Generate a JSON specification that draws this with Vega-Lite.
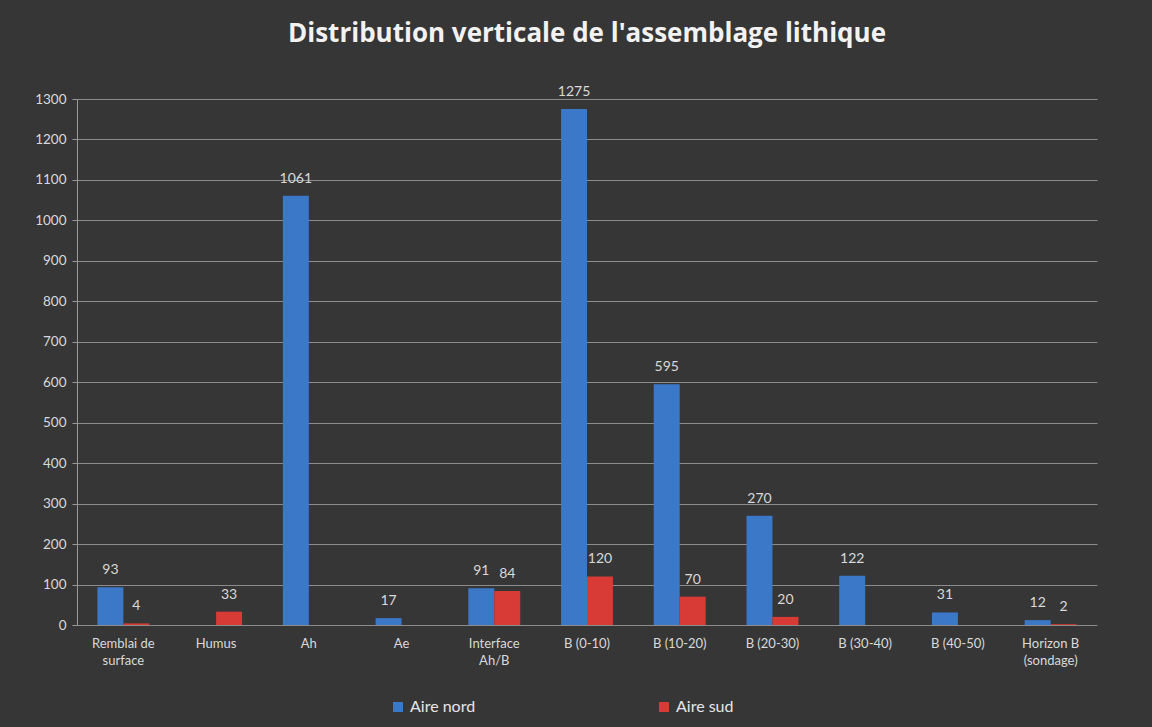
{
  "$schema": "https://vega.github.io/schema/vega-lite/v6.json",
  "width": 1020,
  "height": 526,
  "autosize": {"type": "none"},
  "padding": {"left": 77, "top": 99, "right": 55, "bottom": 102},
  "background": "#363636",
  "title": {
    "text": "Distribution verticale de l'assemblage lithique",
    "font": "Open Sans",
    "fontSize": 26,
    "fontWeight": "bold",
    "color": "#f2f2f2",
    "anchor": "middle",
    "offset": 38
  },
  "data": {
    "values": [
      {"couche": "Remblai de surface", "aire": "Aire nord", "n": 93},
      {"couche": "Remblai de surface", "aire": "Aire sud", "n": 4},
      {"couche": "Humus", "aire": "Aire sud", "n": 33},
      {"couche": "Ah", "aire": "Aire nord", "n": 1061},
      {"couche": "Ae", "aire": "Aire nord", "n": 17},
      {"couche": "Interface Ah/B", "aire": "Aire nord", "n": 91},
      {"couche": "Interface Ah/B", "aire": "Aire sud", "n": 84},
      {"couche": "B (0-10)", "aire": "Aire nord", "n": 1275},
      {"couche": "B (0-10)", "aire": "Aire sud", "n": 120},
      {"couche": "B (10-20)", "aire": "Aire nord", "n": 595},
      {"couche": "B (10-20)", "aire": "Aire sud", "n": 70},
      {"couche": "B (20-30)", "aire": "Aire nord", "n": 270},
      {"couche": "B (20-30)", "aire": "Aire sud", "n": 20},
      {"couche": "B (30-40)", "aire": "Aire nord", "n": 122},
      {"couche": "B (40-50)", "aire": "Aire nord", "n": 31},
      {"couche": "Horizon B (sondage)", "aire": "Aire nord", "n": 12},
      {"couche": "Horizon B (sondage)", "aire": "Aire sud", "n": 2}
    ]
  },
  "encoding": {
    "x": {
      "field": "couche",
      "type": "nominal",
      "sort": ["Remblai de surface", "Humus", "Ah", "Ae", "Interface Ah/B", "B (0-10)", "B (10-20)", "B (20-30)", "B (30-40)", "B (40-50)", "Horizon B (sondage)"],
      "scale": {"paddingInner": 0.44, "paddingOuter": 0.22},
      "axis": {
        "title": null,
        "labelAngle": 0,
        "labelFont": "Lato",
        "labelFontSize": 13,
        "labelColor": "#d9d9d9",
        "labelPadding": 12,
        "labelLineHeight": 17,
        "ticks": false,
        "domain": false,
        "labelExpr": "datum.value == 'Remblai de surface' ? ['Remblai de', 'surface'] : datum.value == 'Interface Ah/B' ? ['Interface', 'Ah/B'] : datum.value == 'Horizon B (sondage)' ? ['Horizon B', '(sondage)'] : datum.label"
      }
    },
    "xOffset": {"field": "aire", "type": "nominal", "sort": ["Aire nord", "Aire sud"], "scale": {"domain": ["Aire nord", "Aire sud"]}},
    "y": {
      "field": "n",
      "type": "quantitative",
      "scale": {"domain": [0, 1300]},
      "axis": {
        "title": null,
        "values": [0, 100, 200, 300, 400, 500, 600, 700, 800, 900, 1000, 1100, 1200, 1300],
        "format": "d",
        "labelFont": "Lato",
        "labelFontSize": 13.5,
        "labelColor": "#d9d9d9",
        "labelPadding": 6,
        "domainColor": "#9a9a9a",
        "tickColor": "#9a9a9a",
        "tickSize": 5,
        "gridColor": "#8c8c8c",
        "gridWidth": 1
      }
    },
    "color": {
      "field": "aire",
      "type": "nominal",
      "scale": {"domain": ["Aire nord", "Aire sud"], "range": ["#3b78c8", "#d83a35"]},
      "legend": {
        "title": null,
        "orient": "none",
        "legendX": 313,
        "legendY": 600,
        "direction": "horizontal",
        "symbolType": "square",
        "symbolSize": 100,
        "symbolStrokeWidth": 0,
        "labelFont": "Lato",
        "labelFontSize": 16,
        "labelColor": "#e6e6e6",
        "columnPadding": 180
      }
    }
  },
  "layer": [
    {"mark": {"type": "bar"}},
    {
      "mark": {"type": "text", "baseline": "bottom", "dy": -10, "font": "Lato", "fontSize": 14, "color": "#d9d9d9"},
      "encoding": {"text": {"field": "n", "type": "quantitative"}, "color": {"value": "#d9d9d9"}}
    }
  ],
  "config": {
    "view": {"stroke": null}
  }
}
